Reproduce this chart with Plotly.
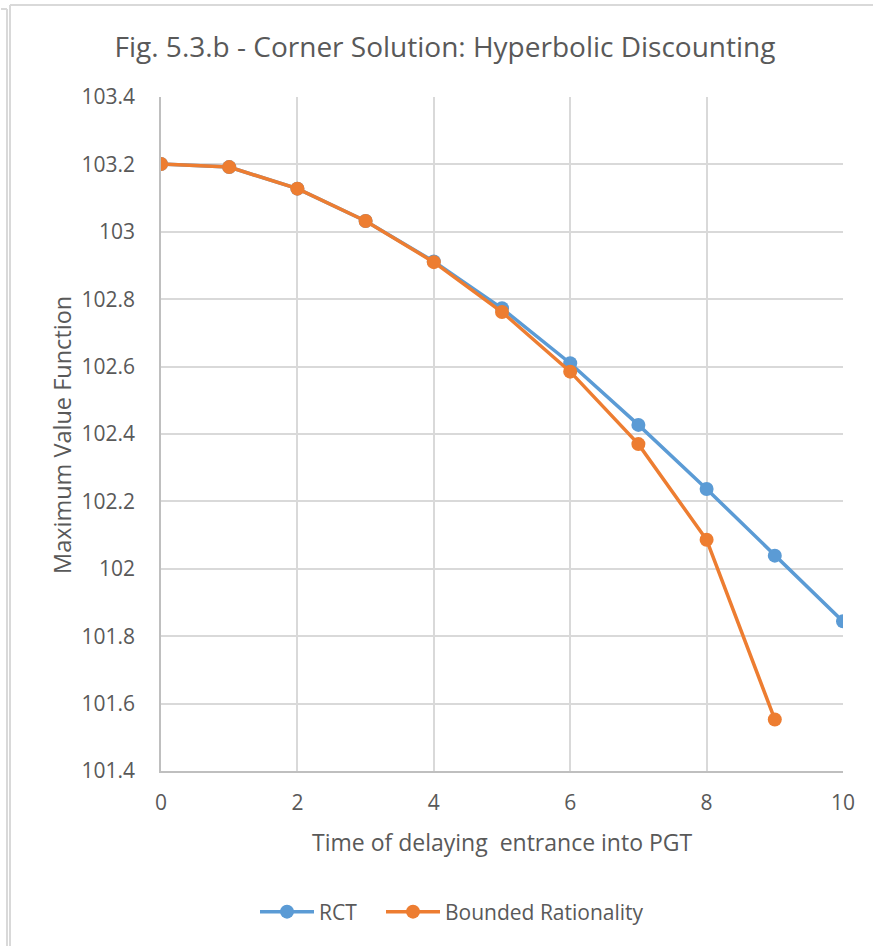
import plotly.graph_objects as go

# Data
x_rct = [0, 1, 2, 3, 4, 5, 6, 7, 8, 9, 10]
y_rct = [103.201, 103.192, 103.128, 103.032, 102.912, 102.773, 102.610, 102.427, 102.237, 102.039, 101.844]
x_br = [0, 1, 2, 3, 4, 5, 6, 7, 8, 9]
y_br = [103.201, 103.192, 103.128, 103.032, 102.910, 102.762, 102.585, 102.370, 102.086, 101.553]
x_ticks = [0, 2, 4, 6, 8, 10]
y_ticks = [101.4, 101.6, 101.8, 102.0, 102.2, 102.4, 102.6, 102.8, 103.0, 103.2, 103.4]
y_tick_text = ["101.4", "101.6", "101.8", "102", "102.2", "102.4", "102.6", "102.8", "103", "103.2", "103.4"]

FONT = "Open Sans"
GREY = "#595959"
W, H = 873, 946
L, R, T, B = 161, 843, 97, 771

fig = go.Figure()
fig.add_trace(go.Scatter(x=x_rct, y=y_rct, name="RCT", mode="lines+markers",
                         line=dict(color="#5B9BD5", width=3.5),
                         marker=dict(color="#5B9BD5", size=14), legend="legend"))
fig.add_trace(go.Scatter(x=x_br, y=y_br, name="Bounded Rationality", mode="lines+markers",
                         line=dict(color="#ED7D31", width=3.5),
                         marker=dict(color="#ED7D31", size=14), legend="legend2"))

def px_x(p):
    return (p - L) / (R - L)

def px_y(p):
    return (B - p) / (B - T)

shapes = []
border = "#D9D9D9"
for (x0, y0, x1, y1) in [(1, 9, 7, 9), (7, 9, 7, 946), (10, 5, 10, 946), (10, 5, 873, 5)]:
    shapes.append(dict(type="line", xref="paper", yref="paper",
                       x0=px_x(x0), y0=px_y(y0), x1=px_x(x1), y1=px_y(y1),
                       line=dict(color=border, width=2)))

leg_common = dict(orientation="h", xanchor="left", y=px_y(912), yanchor="middle",
                  font=dict(size=21, color=GREY), itemwidth=54, bgcolor="rgba(0,0,0,0)")

fig.update_layout(
    width=W, height=H,
    margin=dict(l=L, r=W - R, t=T, b=H - B, autoexpand=False),
    paper_bgcolor="white", plot_bgcolor="white",
    font=dict(family=FONT, color=GREY, size=20),
    title=dict(text="Fig. 5.3.b - Corner Solution: Hyperbolic Discounting",
               x=445 / W, xanchor="center", y=1 - 47 / H, yanchor="middle",
               font=dict(size=28, color=GREY, family=FONT)),
    xaxis=dict(range=[0, 10], tickvals=x_ticks, showgrid=True, gridcolor="#D9D9D9", gridwidth=1.5,
               showline=True, linecolor="#BFBFBF", linewidth=1.5, zeroline=False, automargin=False,
               ticks="", ticklabelstandoff=12, tickfont=dict(size=21, color=GREY)),
    yaxis=dict(range=[101.4, 103.4], tickvals=y_ticks, ticktext=y_tick_text,
               showgrid=True, gridcolor="#D9D9D9", gridwidth=1.5,
               showline=True, linecolor="#BFBFBF", linewidth=1.5, zeroline=False, automargin=False,
               ticks="", ticklabelstandoff=20, tickfont=dict(size=21, color=GREY)),
    showlegend=True,
    legend=dict(x=px_x(255), **leg_common),
    legend2=dict(x=px_x(381), **leg_common),
    shapes=shapes,
    annotations=[
        dict(text="Time of delaying  entrance into PGT", xref="paper", yref="paper",
             x=px_x(502), y=px_y(842), xanchor="center", yanchor="middle", showarrow=False,
             font=dict(size=23, color=GREY, family=FONT)),
        dict(text="Maximum Value Function", xref="paper", yref="paper",
             x=px_x(62), y=px_y(435), xanchor="center", yanchor="middle", showarrow=False,
             textangle=-90, font=dict(size=23.5, color=GREY, family=FONT)),
    ],
)

fig.write_html("out.html")
